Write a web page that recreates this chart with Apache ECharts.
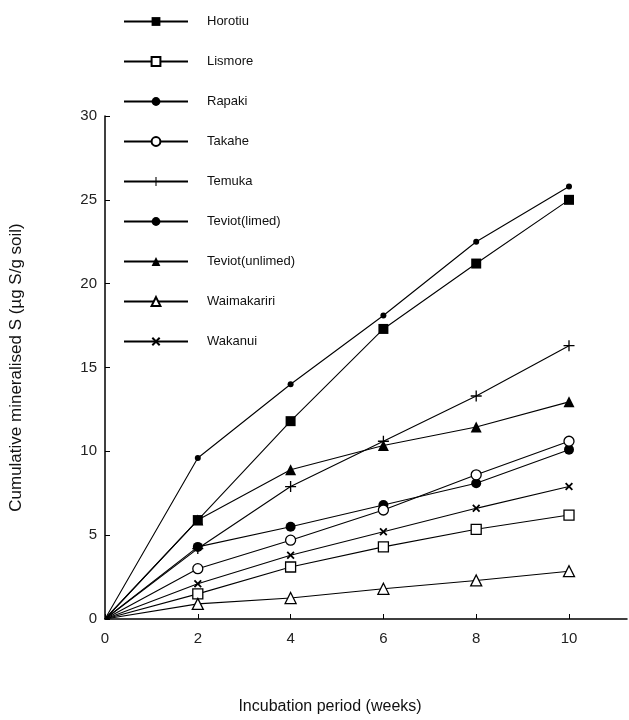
<!DOCTYPE html>
<html>
<head>
<meta charset="utf-8">
<script src="https://cdn.jsdelivr.net/npm/echarts@6/dist/echarts.min.js"></script>
<style>
  html, body { margin: 0; padding: 0; background: #fff; }
  #chart { width: 629px; height: 720px; }
</style>
</head>
<body>
<div id="chart"></div>
<script>
// incubation weeks
const weeks = [0, 2, 4, 6, 8, 10];
const xTicks = [0, 2, 4, 6, 8, 10];

// cumulative mineralised S (ug S/g soil)
const horotiu = [0, 5.9, 11.8, 17.3, 21.2, 25.0];
const lismore = [0, 1.5, 3.1, 4.3, 5.35, 6.2];
const rapaki = [0, 4.3, 5.5, 6.8, 8.1, 10.1];
const takahe = [0, 3.0, 4.7, 6.5, 8.6, 10.6];
const temuka = [0, 4.2, 7.9, 10.6, 13.3, 16.3];
const teviotLimed = [0, 9.6, 14.0, 18.1, 22.5, 25.8];
const teviotUnlimed = [0, 5.9, 8.9, 10.35, 11.45, 12.95];
const waimakariri = [0, 0.9, 1.25, 1.8, 2.3, 2.85];
const wakanui = [0, 2.1, 3.8, 5.2, 6.6, 7.9];

const PLUS = 'path://M4.4,0H5.6V4.4H10V5.6H5.6V10H4.4V5.6H0V4.4H4.4Z';
const CROSS = 'path://M0,1.6L1.6,0L5,3.4L8.4,0L10,1.6L6.6,5L10,8.4L8.4,10L5,6.6L1.6,10L0,8.4L3.4,5Z';

const font = 'Liberation Sans, Arial, sans-serif';

// no marker at the origin, the lines just meet there
const pairs = (vals) => weeks.map((w, i) => (i === 0 ? { value: [w, vals[i]], symbol: 'none' } : [w, vals[i]]));

// name, values, symbol, size, filled
const defs = [
  ['Horotiu', horotiu, 'rect', 10, true],
  ['Lismore', lismore, 'rect', 10, false],
  ['Rapaki', rapaki, 'circle', 10, true],
  ['Takahe', takahe, 'circle', 10, false],
  ['Temuka', temuka, PLUS, 11, true],
  ['Teviot(limed)', teviotLimed, 'circle', 6, true],
  ['Teviot(unlimed)', teviotUnlimed, 'triangle', 11, true],
  ['Waimakariri', waimakariri, 'triangle', 11, false],
  ['Wakanui', wakanui, CROSS, 8, true]
];

const series = defs.map(([name, vals, symbol, size, filled]) => ({
  name,
  type: 'line',
  data: pairs(vals),
  symbol,
  symbolSize: size,
  showSymbol: true,
  animation: false,
  itemStyle: {
    color: filled ? '#000' : '#fff',
    borderColor: '#000',
    borderWidth: filled ? 0 : 1.3
  },
  lineStyle: { color: '#000', width: 1.1 },
  emphasis: { disabled: true }
}));

const chart = echarts.init(document.getElementById('chart'));
chart.setOption({
  animation: false,
  legend: {
    orient: 'vertical',
    left: 118,
    top: 10,
    itemWidth: 64,
    itemHeight: 11,
    itemGap: 27,
    textStyle: { fontFamily: font, fontSize: 13, color: '#111', padding: [0, 0, 0, 14] },
    data: defs.map(d => d[0])
  },
  grid: { left: 104, right: 2, top: 116, bottom: 99 },
  xAxis: {
    type: 'value',
    min: 0,
    max: 11.25,
    interval: 2,
    name: 'Incubation period (weeks)',
    nameLocation: 'middle',
    nameGap: 80,
    nameTextStyle: { fontFamily: font, fontSize: 16, color: '#111', padding: [0, 72, 0, 0] },
    splitLine: { show: false },
    axisLine: { lineStyle: { color: '#000', width: 1.5 } },
    axisTick: { inside: true, length: 5, customValues: xTicks, lineStyle: { color: '#000' } },
    axisLabel: { customValues: xTicks, fontFamily: font, fontSize: 15, color: '#222', margin: 12 }
  },
  yAxis: {
    type: 'value',
    min: 0,
    max: 30,
    interval: 5,
    name: 'Cumulative mineralised S (µg S/g soil)',
    nameLocation: 'middle',
    nameGap: 80,
    nameTextStyle: { fontFamily: font, fontSize: 17, color: '#111' },
    splitLine: { show: false },
    axisLine: { show: true, lineStyle: { color: '#000', width: 1.5 } },
    axisTick: { show: true, inside: true, length: 5, lineStyle: { color: '#000' } },
    axisLabel: { fontFamily: font, fontSize: 15, color: '#222', margin: 8 }
  },
  series
});
</script>
</body>
</html>
